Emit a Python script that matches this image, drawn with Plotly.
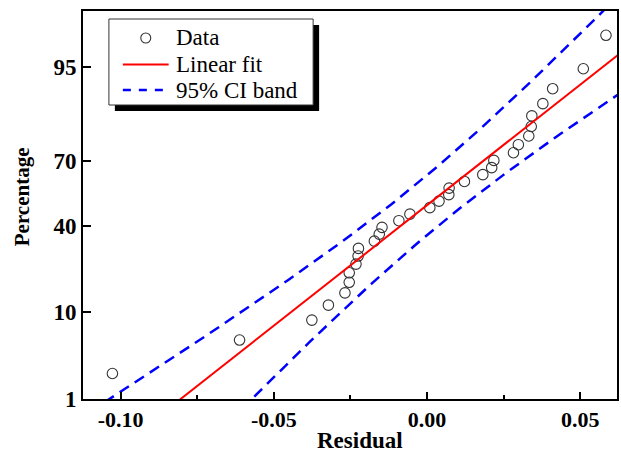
import plotly.graph_objects as go
from statistics import NormalDist

# ---- data ----
residuals = [-0.1027, -0.0612, -0.0376, -0.0322, -0.0268, -0.0254, -0.0254, -0.0232,
             -0.0225, -0.0224, -0.0172, -0.0156, -0.0147, -0.0092, -0.0056, 0.0009,
             0.0039, 0.0071, 0.0072, 0.0122, 0.0182, 0.0211, 0.0218, 0.0282,
             0.0298, 0.0332, 0.0340, 0.0342, 0.0378, 0.0410, 0.0510, 0.0584]
fit_mean = 0.0003
fit_sd = 0.0347
ci_level_z = 1.96
pct_ticks = [1, 10, 40, 70, 95]
pct_tick_labels = ["1", "10", "40", "70", "95"]
x_ticks = [-0.10, -0.05, 0.00, 0.05]
x_tick_labels = ["-0.10", "-0.05", "0.00", "0.05"]
x_minor_ticks = [-0.075, -0.025, 0.025]
legend_labels = ["Data", "Linear fit", "95% CI band"]

nd = NormalDist()
n = len(residuals)
# probability-plot positions (Benard): (i-0.3)/(n+0.4)
z_data = [nd.inv_cdf((i - 0.3) / (n + 0.4)) for i in range(1, n + 1)]

y_lo = nd.inv_cdf(0.01)
y_hi = 2.312
z_grid = [-2.6 + k * 0.05 for k in range(105)]
fit_x = [fit_mean + fit_sd * zz for zz in z_grid]
half = [ci_level_z * fit_sd * ((1 + zz * zz / 2) / n) ** 0.5 for zz in z_grid]
ci_x = [f - h for f, h in zip(fit_x, half)] + [None] + [f + h for f, h in zip(fit_x, half)]
ci_z = z_grid + [None] + z_grid

serif = "Liberation Serif, Times New Roman, serif"
marker_color = "#333333"
fit_color = "red"
ci_color = "blue"
ci_dash = "11px,7px"

# plot-area geometry in pixels (for paper-coordinate placement of the legend)
L, R, T, B = 83, 619, 11, 399
def px(xp):
    return (xp - L) / (R - L)
def py(yp):
    return (B - yp) / (B - T)

fig = go.Figure()
fig.add_trace(go.Scatter(x=residuals, y=z_data, mode="markers", name=legend_labels[0],
                         showlegend=False,
                         marker=dict(symbol="circle-open", size=10.5, color=marker_color,
                                     line=dict(width=1.1))))
fig.add_trace(go.Scatter(x=fit_x, y=z_grid, mode="lines", name=legend_labels[1],
                         showlegend=False, line=dict(color=fit_color, width=2)))
fig.add_trace(go.Scatter(x=ci_x, y=ci_z, mode="lines", name=legend_labels[2],
                         showlegend=False,
                         line=dict(color=ci_color, width=2.5, dash=ci_dash)))

axis_common = dict(showgrid=False, zeroline=False, showline=True, linecolor="black",
                   linewidth=1.8, mirror=True, ticks="inside", tickcolor="black",
                   tickwidth=1.5, tickmode="array")

fig.update_xaxes(range=[-0.1123, 0.0620], tickvals=x_ticks, ticktext=x_tick_labels,
                 ticklen=7,
                 tickfont=dict(family=serif, size=22, color="black", weight="bold"),
                 minor=dict(tickvals=x_minor_ticks, ticks="inside", ticklen=4,
                            tickwidth=1.5, tickcolor="black"),
                 **axis_common)
fig.update_yaxes(range=[y_lo, y_hi], tickvals=[nd.inv_cdf(p / 100) for p in pct_ticks],
                 ticktext=pct_tick_labels, ticklen=8,
                 tickfont=dict(family=serif, size=23, color="black", weight="bold"),
                 **axis_common)

# ---- legend: framed box with drop shadow ----
fig.add_shape(type="rect", xref="paper", yref="paper",
              x0=px(115), x1=px(320), y0=py(111), y1=py(25),
              fillcolor="black", line=dict(width=0), layer="above")
fig.add_shape(type="rect", xref="paper", yref="paper",
              x0=px(109), x1=px(314), y0=py(105), y1=py(19),
              fillcolor="white", line=dict(width=1, color="#333333"), layer="above")
row_y = [38, 64.5, 90]
# Data symbol
fig.add_shape(type="circle", xref="paper", yref="paper",
              x0=px(141), x1=px(151), y0=py(row_y[0] + 5), y1=py(row_y[0] - 5),
              line=dict(color=marker_color, width=1.1), fillcolor="rgba(0,0,0,0)",
              layer="above")
# Linear fit symbol
fig.add_shape(type="line", xref="paper", yref="paper",
              x0=px(123), x1=px(169), y0=py(row_y[1]), y1=py(row_y[1]),
              line=dict(color=fit_color, width=2), layer="above")
# CI band symbol
fig.add_shape(type="line", xref="paper", yref="paper",
              x0=px(123), x1=px(170), y0=py(row_y[2]), y1=py(row_y[2]),
              line=dict(color=ci_color, width=2.5, dash="8px,8px"), layer="above")
for lab, ry in zip(legend_labels, row_y):
    fig.add_annotation(text=lab, xref="paper", yref="paper", x=px(174), y=py(ry),
                       showarrow=False, xanchor="left", yanchor="middle",
                       font=dict(family=serif, size=23, color="black"))

fig.add_annotation(text="Residual", xref="paper", yref="paper",
                   x=px(361), y=py(440), showarrow=False,
                   xanchor="center", yanchor="middle",
                   font=dict(family=serif, size=23, color="black", weight="bold"))
fig.add_annotation(text="Percentage", xref="paper", yref="paper",
                   x=px(22), y=py(197), showarrow=False,
                   textangle=-90, xanchor="center", yanchor="middle",
                   font=dict(family=serif, size=21, color="black", weight="bold"))

fig.update_layout(
    width=621, height=452,
    margin=dict(l=L, r=621 - R, t=T, b=452 - B),
    paper_bgcolor="white", plot_bgcolor="white",
    font=dict(family=serif, color="black"),
    showlegend=False,
)

fig.write_html("out.html")
